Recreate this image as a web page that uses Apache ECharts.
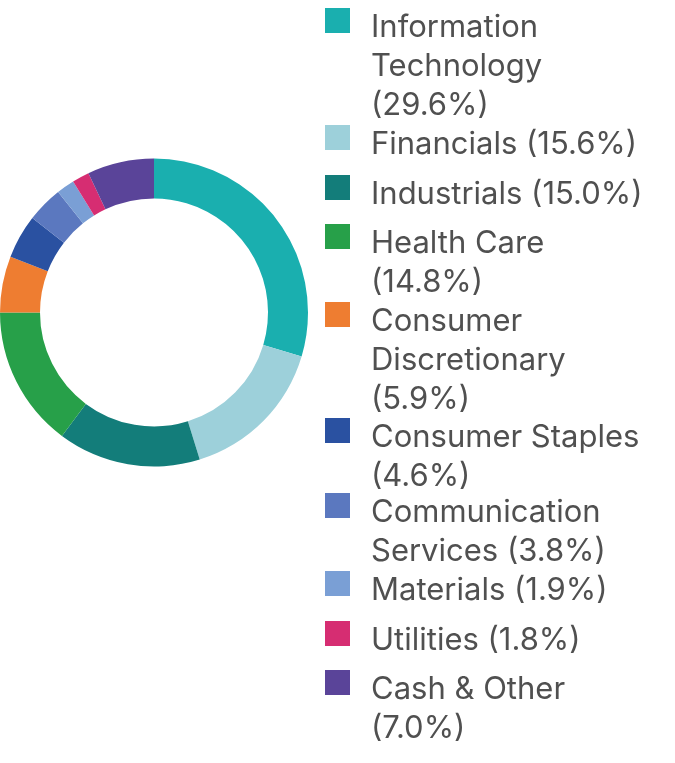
<!DOCTYPE html>
<html>
<head>
<meta charset="utf-8">
<script src="https://cdn.jsdelivr.net/npm/echarts@6/dist/echarts.min.js"></script>
<style>
  html, body { margin: 0; padding: 0; background: #fff; }
  #chart { width: 675px; height: 763px; }
</style>
</head>
<body>
<div id="chart"></div>
<script>
// sector weights (%)
const sectors = [
  "Information Technology", "Financials", "Industrials", "Health Care",
  "Consumer Discretionary", "Consumer Staples", "Communication Services",
  "Materials", "Utilities", "Cash & Other"
];
const weights = [29.6, 15.6, 15.0, 14.8, 5.9, 4.6, 3.8, 1.9, 1.8, 7.0];
// legend text as wrapped in the picture
const legendText = [
  "Information\nTechnology\n(29.6%)",
  "Financials (15.6%)",
  "Industrials (15.0%)",
  "Health Care\n(14.8%)",
  "Consumer\nDiscretionary\n(5.9%)",
  "Consumer Staples\n(4.6%)",
  "Communication\nServices (3.8%)",
  "Materials (1.9%)",
  "Utilities (1.8%)",
  "Cash & Other\n(7.0%)"
];

const colors = ["#1aafaf", "#9dd0da", "#137d7a", "#27a049", "#ee7d31",
  "#2a51a1", "#5b78bf", "#7a9fd5", "#d62d72", "#5a4499"];

// icon top y of each legend square
const iconTops = [8, 125, 175, 224, 302, 418, 493, 571, 621, 670];
const LH = 39, ICON = 25, SHIFT = 7;

const chart = echarts.init(document.getElementById("chart"));

const legends = sectors.map((name, i) => {
  const lines = legendText[i].split("\n");
  const n = lines.length;
  // spacer on top so the first line sits beside the square
  const S = 2 * SHIFT + (n - 1) * LH;
  const h = S + n * LH;
  const textTop = ICON / 2 - h / 2;
  return {
    data: [name],
    left: 325,
    top: iconTops[i] + Math.min(0, textTop),
    padding: 0,
    icon: "rect",
    itemWidth: ICON,
    itemHeight: ICON,
    selectedMode: false,
    formatter: () => "{s| }\n" + lines.map(l => "{a|" + l + "}").join("\n"),
    textStyle: {
      rich: {
        s: { fontSize: 4, lineHeight: S, height: S },
        a: {
          fontFamily: "Inter",
          fontSize: 31,
          lineHeight: LH,
          color: "#505050",
          padding: [0, 0, 0, 16]
        }
      }
    }
  };
});

chart.setOption({
  animation: false,
  color: colors,
  legend: legends,
  series: [{
    type: "pie",
    center: [154, 312.5],
    radius: [114, 154],
    startAngle: 90,
    clockwise: true,
    label: { show: false },
    labelLine: { show: false },
    emphasis: { disabled: true },
    data: sectors.map((name, i) => ({ name: name, value: weights[i] }))
  }]
});
</script>
</body>
</html>
